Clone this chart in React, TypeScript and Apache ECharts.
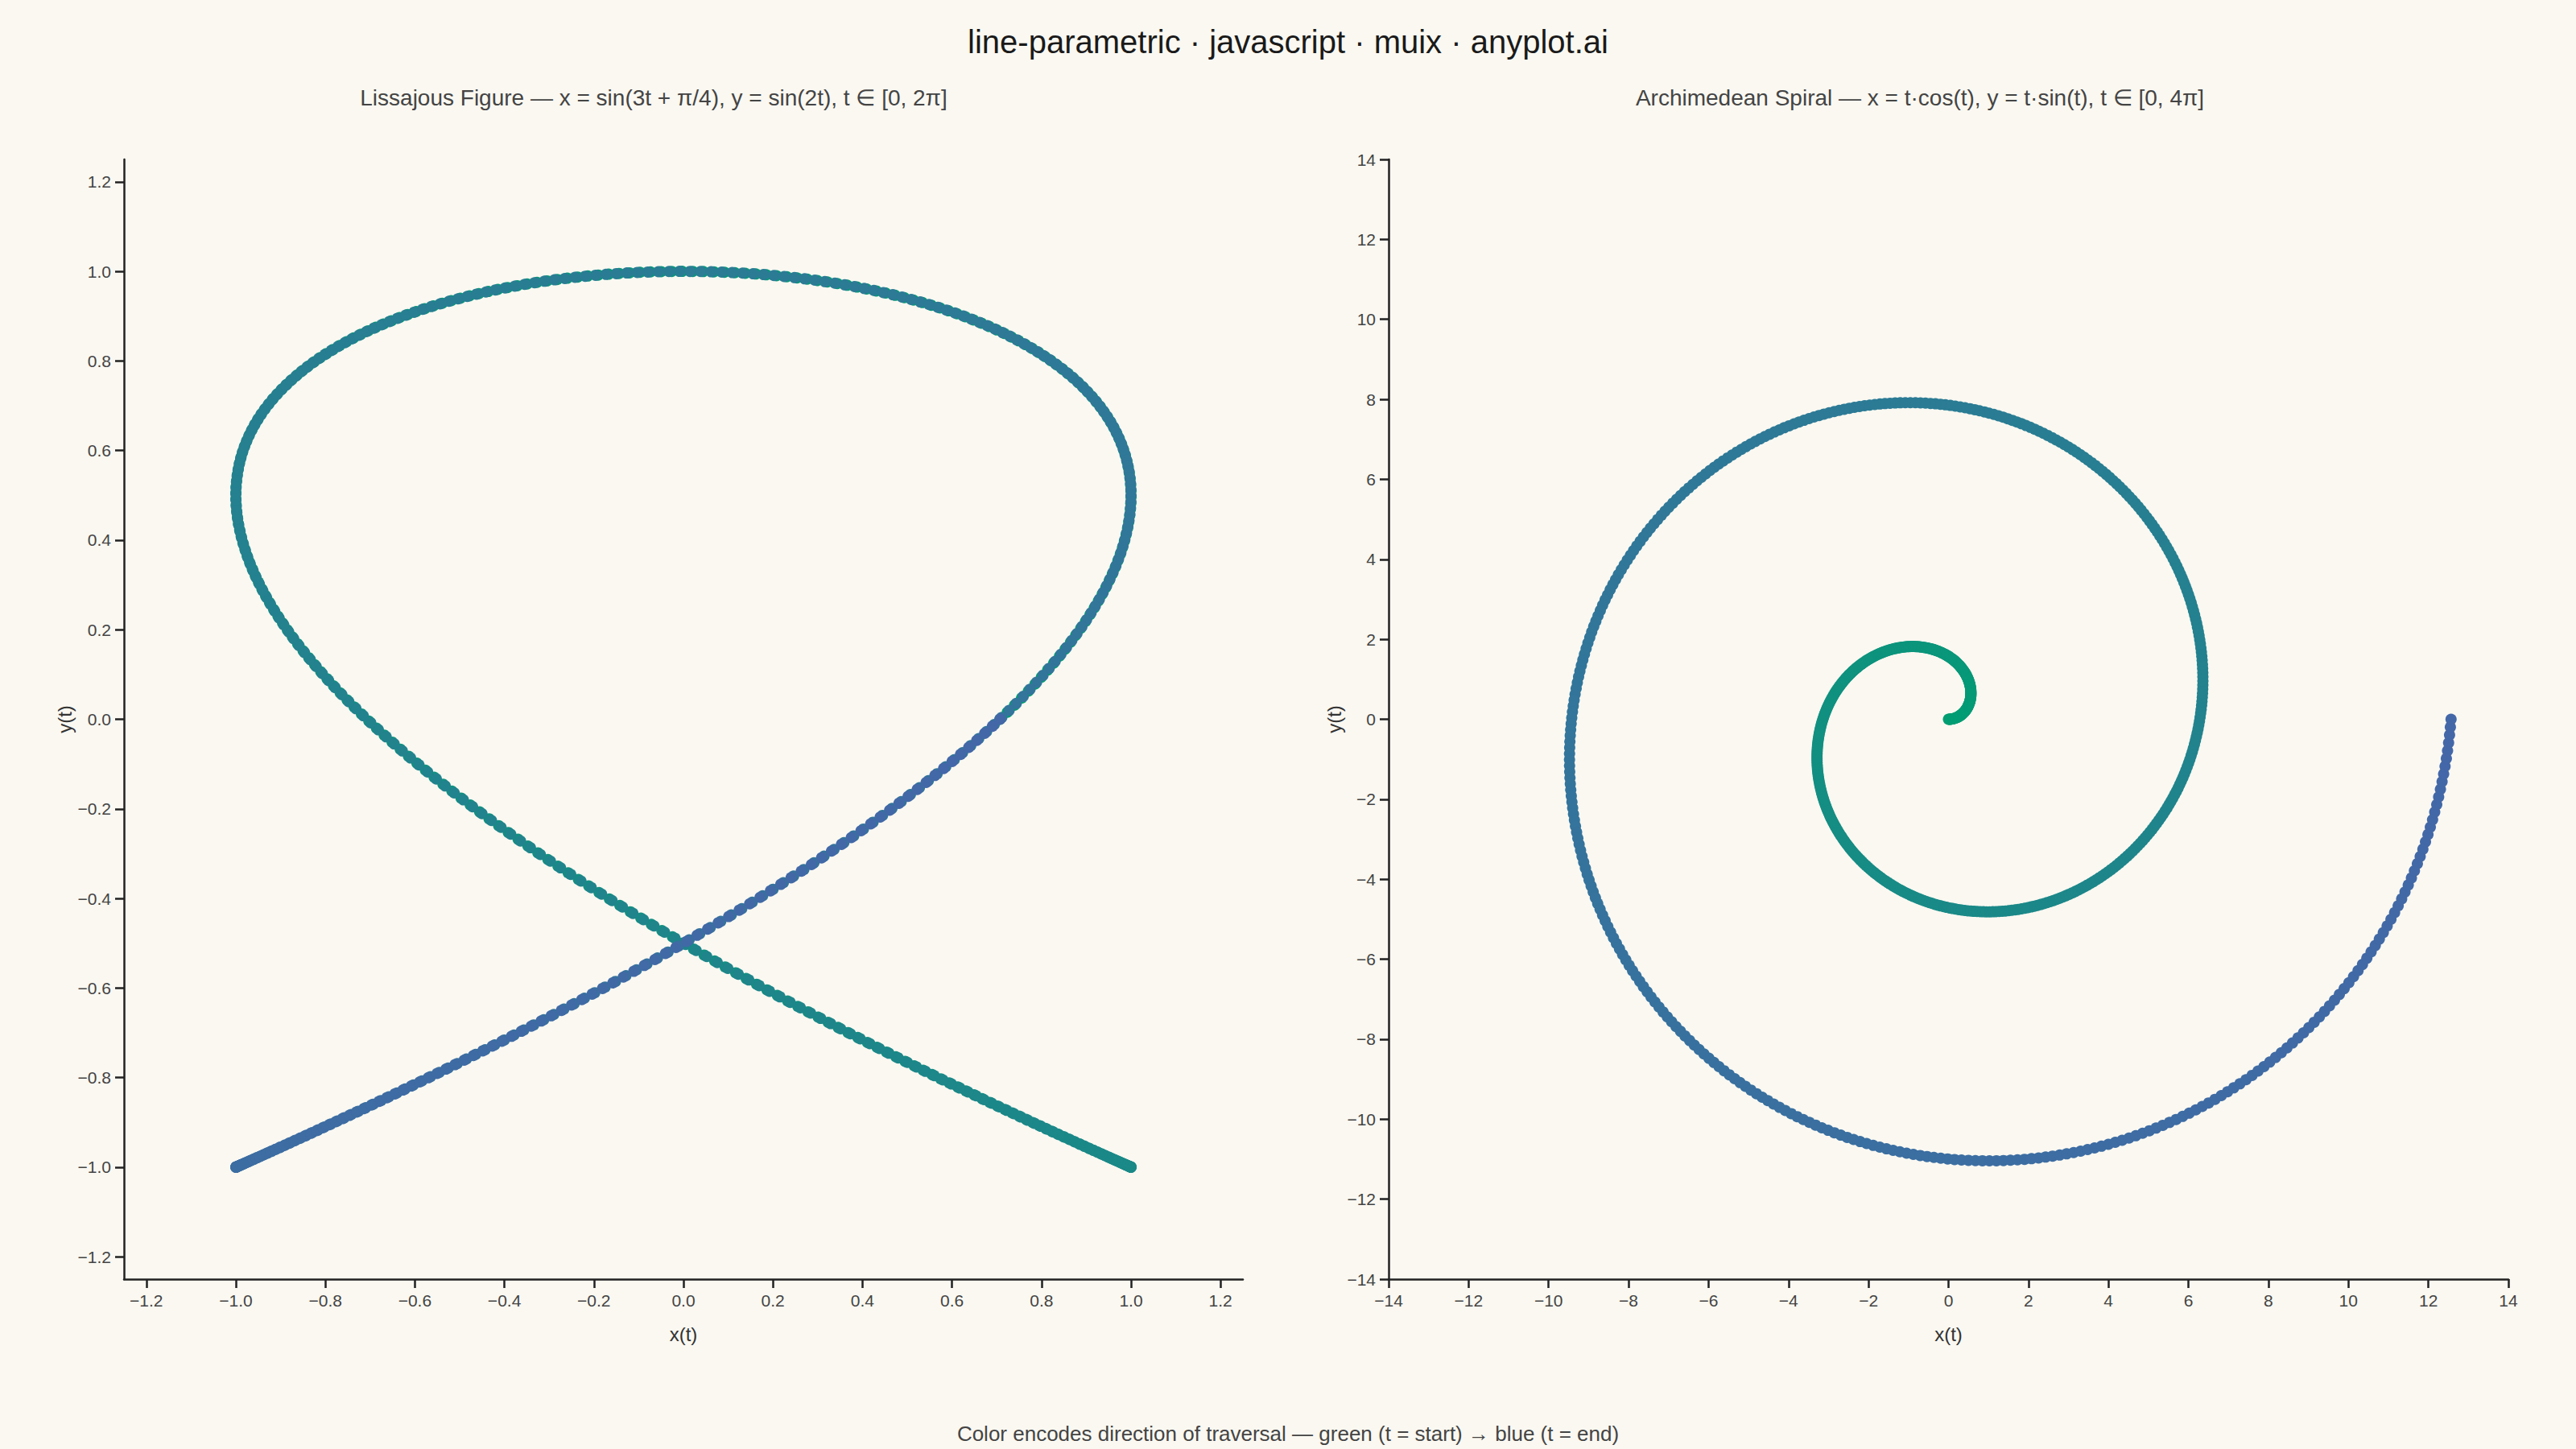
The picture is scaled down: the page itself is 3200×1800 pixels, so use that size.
import React, { useEffect, useRef } from "react";
import * as echarts from "echarts";

// ---- Data definitions (curves are defined by the parametric equations shown in the subtitles) ----
const SAMPLES = 800;
const LISSAJOUS_T_END = 2 * Math.PI;
const SPIRAL_T_END = 4 * Math.PI;

const LISSAJOUS_TICKS = [-1.2, -1.0, -0.8, -0.6, -0.4, -0.2, 0.0, 0.2, 0.4, 0.6, 0.8, 1.0, 1.2];
const SPIRAL_TICKS = [-14, -12, -10, -8, -6, -4, -2, 0, 2, 4, 6, 8, 10, 12, 14];

const TITLE = "line-parametric · javascript · muix · anyplot.ai";
const SUBTITLE_LEFT = "Lissajous Figure — x = sin(3t + π/4), y = sin(2t), t ∈ [0, 2π]";
const SUBTITLE_RIGHT = "Archimedean Spiral — x = t·cos(t), y = t·sin(t), t ∈ [0, 4π]";
const FOOTER = "Color encodes direction of traversal — green (t = start) → blue (t = end)";

const START_COLOR = "#009E73";
const END_COLOR = "#4467A8";

const lissajousT = Array.from({ length: SAMPLES }, (_, i) => (i / (SAMPLES - 1)) * LISSAJOUS_T_END);
const spiralT = Array.from({ length: SAMPLES }, (_, i) => (i / (SAMPLES - 1)) * SPIRAL_T_END);

const lissajousData = lissajousT.map((t, i) => [
  Math.sin(3 * t + Math.PI / 4),
  Math.sin(2 * t),
  i / (SAMPLES - 1),
]);
const spiralData = spiralT.map((t, i) => [t * Math.cos(t), t * Math.sin(t), i / (SAMPLES - 1)]);

const FONT = "'Liberation Sans', Arial, Helvetica, sans-serif";

const fmtDec = (v: number) => (v < -1e-9 ? "\u2212" + Math.abs(v).toFixed(1) : Math.abs(v).toFixed(1));
const fmtInt = (v: number) => (v < 0 ? "\u2212" + Math.abs(v) : String(v));

function axisCommon(ticks: number[], fmt: (v: number) => string, isX: boolean, name: string) {
  return {
    type: "value",
    name,
    nameLocation: "middle",
    nameGap: isX ? 56 : 50,
    nameTextStyle: { fontFamily: FONT, fontSize: 24, color: "#333" },
    axisLine: { show: true, onZero: false, lineStyle: { color: "#222", width: 2.5 } },
    axisTick: { show: true, length: 11, lineStyle: { color: "#222", width: 2.5 }, customValues: ticks },
    axisLabel: {
      show: true,
      margin: 16,
      fontFamily: FONT,
      fontSize: 21,
      color: "#444",
      customValues: ticks,
      formatter: (v: number) => fmt(v),
    },
    splitLine: { show: false },
  };
}

function centeredText(text: string, x: number, y: number, size: number, fill: string) {
  return {
    type: "text",
    x,
    y,
    style: {
      text,
      font: `${size}px ${FONT}`,
      fill,
      textAlign: "center",
      textVerticalAlign: "middle",
      align: "center",
      verticalAlign: "middle",
    },
  };
}

export default function App() {
  const ref = useRef<HTMLDivElement>(null);
  useEffect(() => {
    document.body.style.margin = "0";
    if (!ref.current) return;
    const chart = echarts.init(ref.current, undefined, { renderer: "svg" });
    const option: any = {
      animation: false,
      backgroundColor: "#FAF8F1",
      graphic: [
        centeredText(TITLE, 1600, 52, 40, "#1a1a1a"),
        centeredText(SUBTITLE_LEFT, 812, 121, 28, "#444"),
        centeredText(SUBTITLE_RIGHT, 2385, 121, 28, "#444"),
        centeredText(FOOTER, 1600, 1781, 26, "#444"),
      ],
      grid: [
        { left: 154, top: 198, width: 1390, height: 1391, containLabel: false },
        { left: 1725, top: 198, width: 1391, height: 1391, containLabel: false },
      ],
      xAxis: [
        { ...axisCommon(LISSAJOUS_TICKS, fmtDec, true, "x(t)"), gridIndex: 0, min: -1.25, max: 1.25 },
        { ...axisCommon(SPIRAL_TICKS, fmtInt, true, "x(t)"), gridIndex: 1, min: -14, max: 14 },
      ],
      yAxis: [
        { ...axisCommon(LISSAJOUS_TICKS, fmtDec, false, "y(t)"), gridIndex: 0, min: -1.25, max: 1.25 },
        { ...axisCommon(SPIRAL_TICKS, fmtInt, false, "y(t)"), gridIndex: 1, min: -14, max: 14 },
      ],
      visualMap: [
        {
          type: "continuous",
          show: false,
          dimension: 2,
          min: 0,
          max: 1,
          seriesIndex: [0, 1],
          inRange: { color: [START_COLOR, END_COLOR] },
        },
      ],
      series: [
        {
          type: "scatter",
          xAxisIndex: 0,
          yAxisIndex: 0,
          data: lissajousData,
          symbol: "circle",
          symbolSize: 14,
          itemStyle: { opacity: 1 },
          emphasis: { disabled: true },
          silent: true,
          large: false,
        },
        {
          type: "scatter",
          xAxisIndex: 1,
          yAxisIndex: 1,
          data: spiralData,
          symbol: "circle",
          symbolSize: 14,
          itemStyle: { opacity: 1 },
          emphasis: { disabled: true },
          silent: true,
          large: false,
        },
      ],
    };
    chart.setOption(option);
    return () => chart.dispose();
  }, []);
  return <div ref={ref} style={{ width: 3200, height: 1800 }} />;
}
